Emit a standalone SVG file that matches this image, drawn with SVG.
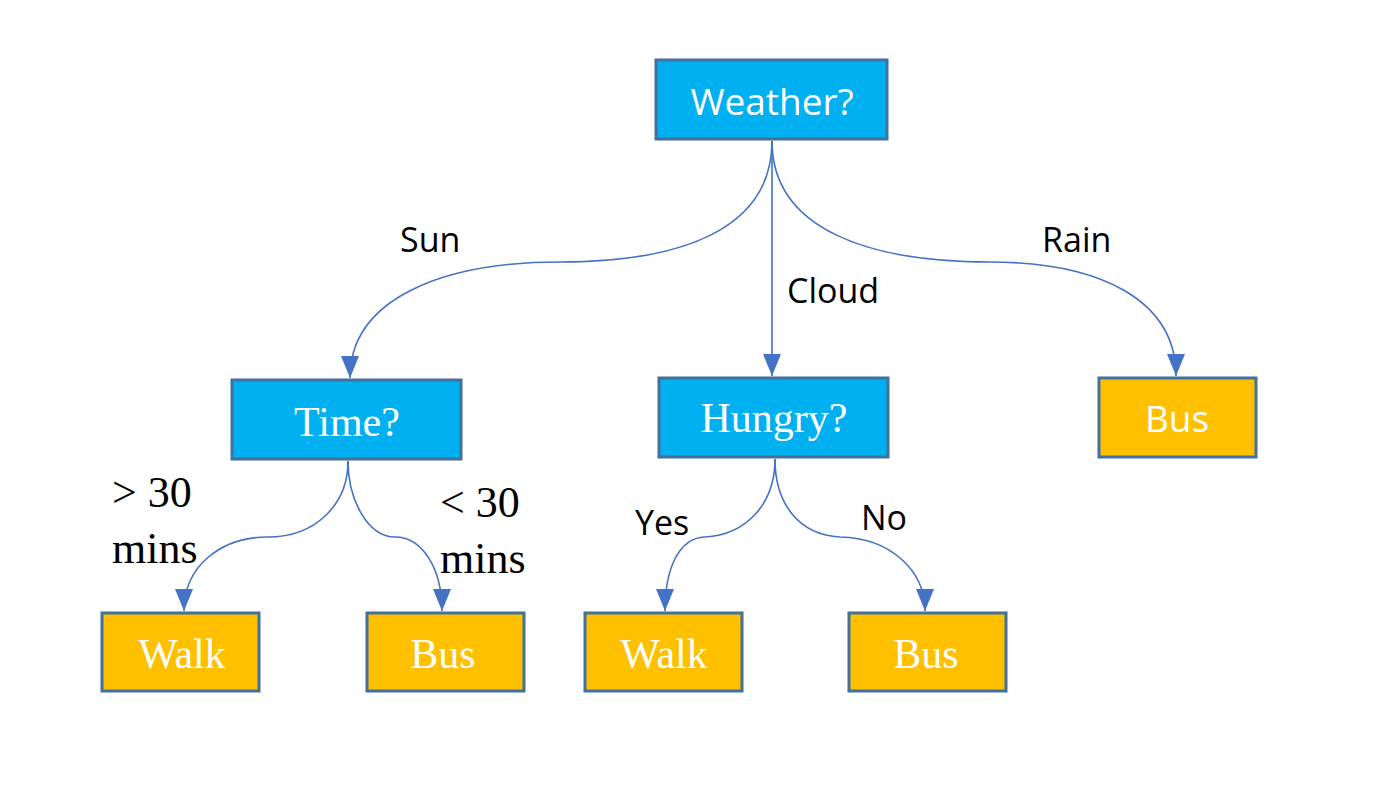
<svg xmlns="http://www.w3.org/2000/svg" width="1400" height="800" viewBox="0 0 1400 800">
<style>
.q{fill:#00B0F0;stroke:#41719C;stroke-width:3}
.l{fill:#FFC000;stroke:#41719C;stroke-width:3}
.ts{font-family:"Open Sans","Liberation Sans",sans-serif;fill:#fff;font-size:37px;text-anchor:middle}
.tr{font-family:"Liberation Serif",serif;fill:#fff;font-size:42px;text-anchor:middle}
.lb{font-family:"Open Sans","Liberation Sans",sans-serif;fill:#000;font-size:34px}
.lr{font-family:"Liberation Serif",serif;fill:#000;font-size:44px}
.c{fill:none;stroke:#4472C4;stroke-width:1.6}
</style>
<defs>
<marker id="ah" viewBox="0 0 22 20" refX="22" refY="10" markerWidth="22" markerHeight="20" orient="auto" markerUnits="userSpaceOnUse">
<path d="M0,1 L22,10 L0,19 z" fill="#4472C4"/>
</marker>
</defs>
<rect width="1400" height="800" fill="#fff"/>
<g id="connectors">
<path class="c" marker-end="url(#ah)" d="M772,141 C772,230 680,262 560,262 C440,262 350,300 350,378"/>
<path class="c" marker-end="url(#ah)" d="M772,141 L772,376"/>
<path class="c" marker-end="url(#ah)" d="M772,141 C772,230 870,262 990,262 C1100,262 1176,300 1176,376"/>
<path class="c" marker-end="url(#ah)" d="M348,461 C348,505 315,537 268,537 C222,537 184,565 184,611"/>
<path class="c" marker-end="url(#ah)" d="M348,461 C348,500 368,537 395,537 C422,537 442,568 442,611"/>
<path class="c" marker-end="url(#ah)" d="M775,459 C775,505 745,535 705,537 C678,538 665,570 665,611"/>
<path class="c" marker-end="url(#ah)" d="M775,459 C775,505 800,535 840,537 C890,538 925,570 925,611"/>
</g>
<g id="n-weather"><rect class="q" x="656" y="60" width="231" height="79"/><text class="ts" x="772" y="115">Weather?</text></g>
<g id="n-time"><rect class="q" x="232" y="380" width="229" height="79"/><text class="tr" x="347" y="436">Time?</text></g>
<g id="n-hungry"><rect class="q" x="659" y="378" width="229" height="79"/><text class="tr" x="774" y="432">Hungry?</text></g>
<g id="n-bus-rain"><rect class="l" x="1099" y="378" width="157" height="79"/><text class="ts" x="1177" y="432">Bus</text></g>
<g id="n-walk1"><rect class="l" x="102" y="613" width="157" height="78"/><text class="tr" x="182" y="668">Walk</text></g>
<g id="n-bus1"><rect class="l" x="367" y="613" width="157" height="78"/><text class="tr" x="443" y="668">Bus</text></g>
<g id="n-walk2"><rect class="l" x="585" y="613" width="157" height="78"/><text class="tr" x="664" y="668">Walk</text></g>
<g id="n-bus2"><rect class="l" x="849" y="613" width="157" height="78"/><text class="tr" x="926" y="668">Bus</text></g>
<g id="labels">
<text class="lb" x="400" y="252">Sun</text>
<text class="lb" x="787" y="303">Cloud</text>
<text class="lb" x="1042" y="252">Rain</text>
<text class="lr" x="112" y="507">&gt; 30</text>
<text class="lr" x="112" y="563">mins</text>
<text class="lr" x="440" y="517">&lt; 30</text>
<text class="lr" x="440" y="573">mins</text>
<text class="lb" x="635" y="535">Yes</text>
<text class="lb" x="861" y="530">No</text>
</g>
</svg>
